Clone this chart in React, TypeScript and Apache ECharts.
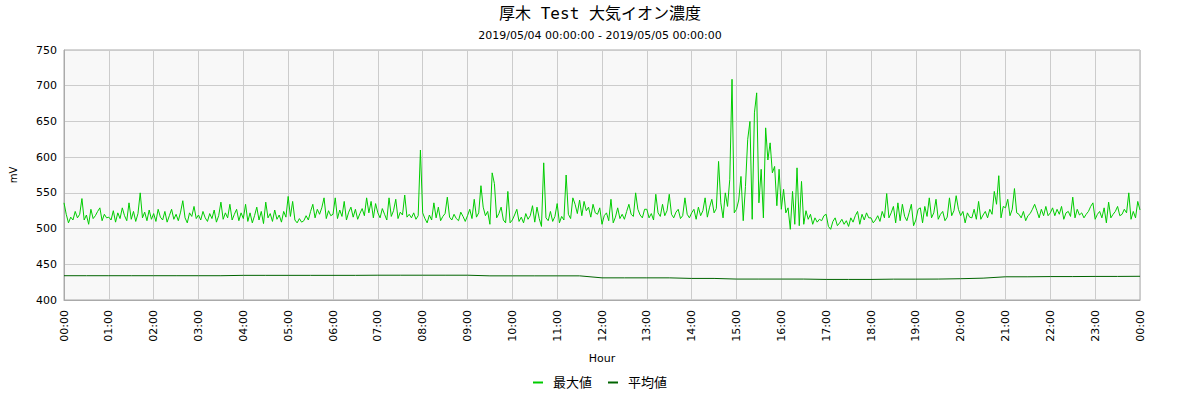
import React, { useEffect, useRef } from "react";
import * as echarts from "echarts";

const TITLE = "厚木 Test 大気イオン濃度";
const SUBTITLE = "2019/05/04 00:00:00 - 2019/05/05 00:00:00";
const SERIES_NAMES = ["最大値", "平均値"];
const X_NAME = "Hour";
const Y_NAME = "mV";

// 3-minute samples of the maximum (mV), 20 per hour, 00:00 .. 24:00
const maxStepMinutes = 3;
const maxValues: number[] = [
  // 00
  536, 520, 508, 516, 512, 524, 515, 520, 542, 512, 519, 506, 527, 514, 518, 524, 529, 511, 520, 515,
  // 01
  516, 512, 525, 509, 522, 514, 529, 518, 511, 536, 513, 524, 510, 521, 550, 515, 523, 511, 526, 513,
  // 02
  521, 510, 527, 516, 512, 524, 509, 518, 527, 513, 520, 511, 523, 539, 515, 508, 522, 517, 531, 514,
  // 03
  519, 512, 524, 515, 510, 521, 514, 526, 509, 518, 537, 513, 522, 515, 534, 512, 520, 527, 511, 522,
  // 04
  514, 534, 510, 522, 508, 518, 530, 512, 524, 507, 537, 515, 521, 510, 526, 513, 519, 509, 524, 516,
  // 05
  545, 517, 538, 512, 508, 514, 509, 511, 518, 512, 524, 534, 515, 527, 520, 529, 543, 514, 525, 518,
  // 06
  520, 543, 514, 526, 517, 538, 512, 523, 530, 516, 527, 513, 521, 528, 518, 543, 522, 538, 515, 535,
  // 07
  522, 515, 528, 520, 512, 543, 517, 525, 541, 514, 523, 519, 547, 516, 520, 515, 522, 513, 518, 610,
  // 08
  522, 514, 508, 519, 512, 536, 515, 530, 511, 517, 521, 544, 516, 512, 520, 514, 511, 523, 517, 510,
  // 09
  518, 527, 514, 541, 516, 522, 560, 530, 518, 524, 506, 578, 563, 515, 521, 530, 512, 508, 552, 508,
  // 10
  512, 519, 527, 510, 516, 508, 521, 513, 518, 532, 509, 530, 514, 503, 592, 515, 511, 524, 510, 517,
  // 11
  535, 508, 517, 512, 575, 520, 514, 543, 534, 521, 540, 518, 538, 525, 530, 516, 534, 522, 520, 529,
  // 12
  506, 518, 522, 511, 541, 508, 516, 529, 514, 520, 513, 524, 534, 520, 517, 550, 527, 519, 515, 527,
  // 13
  527, 515, 521, 512, 548, 522, 517, 534, 518, 525, 548, 520, 515, 523, 527, 514, 518, 543, 520, 515,
  // 14
  522, 527, 513, 530, 518, 525, 543, 516, 530, 541, 522, 528, 594, 536, 515, 550, 531, 569, 709, 522,
  // 15
  527, 540, 573, 511, 559, 625, 650, 513, 662, 690, 536, 583, 515, 641, 596, 620, 578, 587, 532, 583,
  // 16
  527, 555, 522, 529, 499, 552, 506, 585, 504, 566, 506, 525, 513, 520, 506, 515, 509, 513, 511, 518,
  // 17
  520, 503, 499, 510, 515, 504, 508, 513, 506, 511, 503, 515, 509, 518, 524, 506, 520, 512, 522, 515,
  // 18
  515, 508, 512, 518, 510, 524, 515, 549, 515, 522, 531, 508, 536, 511, 534, 517, 511, 522, 534, 504,
  // 19
  512, 527, 529, 508, 531, 517, 543, 515, 522, 541, 513, 520, 524, 511, 516, 543, 518, 525, 546, 527,
  // 20
  518, 524, 508, 522, 516, 515, 527, 513, 538, 513, 519, 524, 515, 527, 520, 552, 534, 574, 515, 531,
  // 21
  529, 541, 518, 527, 556, 522, 520, 515, 524, 511, 518, 521, 527, 534, 525, 515, 527, 518, 531, 518,
  // 22
  522, 529, 518, 527, 520, 531, 513, 522, 524, 517, 544, 515, 527, 519, 522, 515, 520, 524, 531, 536,
  // 23
  513, 520, 524, 515, 529, 508, 537, 515, 520, 524, 531, 518, 520, 527, 522, 550, 513, 524, 515, 538,
  // 24:00
  526,
];

// 30-minute samples of the average (mV), 00:00 .. 24:00
const avgStepMinutes = 30;
const avgValues: number[] = [
  434, 434, 434, 434, 434, 434, 434, 434,
  434.5, 434.5, 434.5, 434.5, 434.5, 434.5,
  434.7, 434.7, 434.7, 434.7, 434.7,
  433.8, 433.8, 433.8, 433.8, 433.8,
  431, 431, 431, 431,
  430.2, 430.2,
  429.3, 429.3, 429.3, 429.3, 428.8, 428.8, 428.8, 429.2, 429.2, 429.3,
  429.8, 430.6,
  432.5, 432.5, 432.8, 432.8, 433, 433, 433.2,
];

const xTicks = Array.from({ length: 25 }, (_, h) => h * 60);

function fmtHour(m: number): string {
  const h = Math.round(m / 60) % 24;
  return (h < 10 ? "0" : "") + h + ":00";
}

const FONT = "'DejaVu Sans', 'Noto Sans CJK JP', sans-serif";
const TITLE_FONT = "'DejaVu Sans Mono', 'Noto Sans CJK JP', monospace";

export default function App() {
  const ref = useRef<HTMLDivElement>(null);

  useEffect(() => {
    document.body.style.margin = "0";
    if (!ref.current) return;
    const chart = echarts.init(ref.current, undefined, { renderer: "svg" });
    const maxData = maxValues.map((v, i) => [i * maxStepMinutes, v]);
    const avgData = avgValues.map((v, i) => [i * avgStepMinutes, v]);
    chart.setOption({
      animation: false,
      backgroundColor: "#ffffff",
      textStyle: { fontFamily: FONT },
      title: {
        text: TITLE,
        subtext: SUBTITLE,
        left: "center",
        top: 0,
        itemGap: 9,
        textStyle: { fontFamily: TITLE_FONT, fontSize: 16, fontWeight: "normal", color: "#000" },
        subtextStyle: { fontFamily: FONT, fontSize: 11, color: "#000" },
      },
      legend: {
        bottom: 6,
        left: "center",
        icon: "rect",
        itemWidth: 10,
        itemHeight: 2,
        itemGap: 16,
        textStyle: { fontFamily: FONT, fontSize: 13, color: "#000", padding: [0, 0, 0, 5] },
        data: SERIES_NAMES,
      },
      grid: {
        left: 58,
        right: 60,
        top: 50,
        bottom: 100,
        show: true,
        backgroundColor: "#f8f8f8",
        borderColor: "#aaaaaa",
        borderWidth: 1,
        containLabel: false,
      },
      xAxis: {
        type: "value",
        min: 0,
        max: 1440,
        interval: 60,
        name: X_NAME,
        nameLocation: "middle",
        nameGap: 53,
        nameTextStyle: { fontFamily: FONT, fontSize: 11, color: "#000" },
        axisLine: { lineStyle: { color: "#aaaaaa" } },
        axisTick: { show: false },
        splitLine: { show: true, lineStyle: { color: "#cccccc" } },
        axisLabel: {
          rotate: 90,
          margin: 10,
          fontFamily: FONT,
          fontSize: 11,
          color: "#000",
          formatter: (v: number) => (xTicks.includes(v) ? fmtHour(v) : ""),
        },
      },
      yAxis: {
        type: "value",
        min: 400,
        max: 750,
        interval: 50,
        name: Y_NAME,
        nameLocation: "middle",
        nameRotate: 90,
        nameGap: 46,
        nameTextStyle: { fontFamily: FONT, fontSize: 10, color: "#000" },
        axisLine: { show: true, lineStyle: { color: "#aaaaaa" } },
        axisTick: { show: false },
        splitLine: { show: true, lineStyle: { color: "#cccccc" } },
        axisLabel: { margin: 7, fontFamily: FONT, fontSize: 11, color: "#000" },
      },
      series: [
        {
          name: SERIES_NAMES[0],
          type: "line",
          data: maxData,
          showSymbol: false,
          symbol: "none",
          color: "#00cc00",
          lineStyle: { color: "#00cc00", width: 1 },
          z: 3,
        },
        {
          name: SERIES_NAMES[1],
          type: "line",
          data: avgData,
          showSymbol: false,
          symbol: "none",
          color: "#006400",
          lineStyle: { color: "#006400", width: 1 },
          z: 2,
        },
      ],
    });
    return () => chart.dispose();
  }, []);

  return <div ref={ref} style={{ width: 1200, height: 400 }} />;
}
